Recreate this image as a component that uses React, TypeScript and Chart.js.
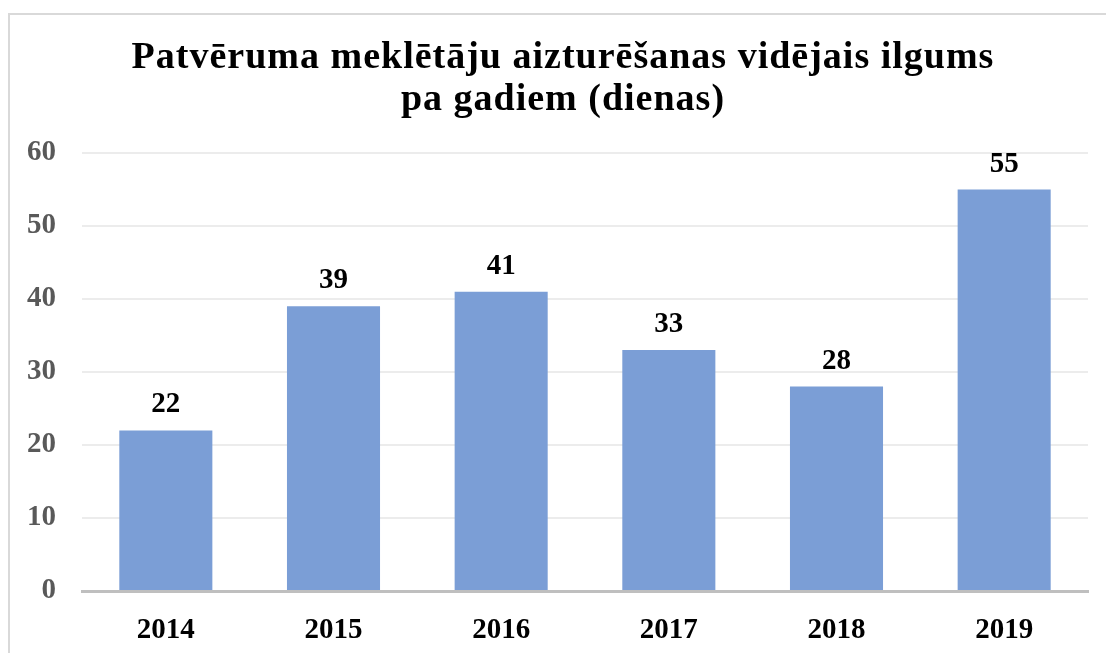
import React, { useEffect, useRef } from "react";
import { Chart, registerables } from "chart.js";

Chart.register(...registerables);

const categories = ["2014", "2015", "2016", "2017", "2018", "2019"];
const values = [22, 39, 41, 33, 28, 55];
const titleLines = ["Patvēruma meklētāju aizturēšanas vidējais ilgums", "pa gadiem (dienas)"];
const yTicks = [0, 10, 20, 30, 40, 50, 60];

const FONT = "'Liberation Serif', 'Times New Roman', serif";

const titlePlugin = {
  id: "customTitle",
  afterDraw(chart: any) {
    const ctx = chart.ctx;
    ctx.save();
    ctx.fillStyle = "#000";
    ctx.font = `bold 38px ${FONT}`;
    (ctx as any).letterSpacing = "1px";
    ctx.textAlign = "center";
    ctx.textBaseline = "alphabetic";
    const cx = 563;
    ctx.fillText(titleLines[0], cx, 68);
    ctx.fillText(titleLines[1], cx, 110);
    ctx.restore();
  },
};

const labelPlugin = {
  id: "valueLabels",
  afterDatasetsDraw(chart: any) {
    const ctx = chart.ctx;
    const meta = chart.getDatasetMeta(0);
    ctx.save();
    ctx.fillStyle = "#000";
    ctx.font = `bold 29px ${FONT}`;
    ctx.textAlign = "center";
    ctx.textBaseline = "alphabetic";
    meta.data.forEach((bar: any, i: number) => {
      ctx.fillText(String(values[i]), bar.x, bar.y - 18);
    });
    ctx.restore();
  },
};

export default function App() {
  const ref = useRef<HTMLCanvasElement>(null);
  useEffect(() => {
    if (!ref.current) return;
    const chart = new Chart(ref.current, {
      type: "bar",
      data: {
        labels: categories,
        datasets: [
          {
            data: values,
            backgroundColor: "rgb(123,158,214)",
            barPercentage: 0.555,
            categoryPercentage: 1,
          },
        ],
      },
      options: {
        animation: false,
        responsive: false,
        maintainAspectRatio: false,
        layout: { padding: { top: 153, right: 18, bottom: 0, left: 0 } },
        plugins: { legend: { display: false }, title: { display: false }, tooltip: { enabled: false } },
        scales: {
          x: {
            grid: { display: false, drawTicks: false },
            border: { display: true, color: "#bfbfbf", width: 3 },
            ticks: { color: "#000", font: { family: FONT, size: 29, weight: "bold" }, padding: 22 },
            afterFit: (s: any) => { s.height = 62; },
          },
          y: {
            min: 0,
            max: 60,
            afterBuildTicks: (s: any) => { s.ticks = yTicks.map((v) => ({ value: v })); },
            grid: { color: "#ececec", lineWidth: 2, drawTicks: false },
            border: { display: false },
            ticks: { color: "#595959", font: { family: FONT, size: 29, weight: "bold" }, padding: 26 },
            afterFit: (s: any) => { s.width = 82; },
          },
        },
      },
      plugins: [titlePlugin, labelPlugin],
    });
    return () => chart.destroy();
  }, []);
  return (
    <div style={{ position: "fixed", left: 0, top: 0, width: 1106, height: 653, overflow: "hidden", background: "#fff" }}>
      <div style={{ position: "absolute", left: 8, top: 13, width: 1200, height: 800, borderTop: "2px solid #d9d9d9", borderLeft: "2px solid #d9d9d9" }} />
      <canvas ref={ref} width={1106} height={653} style={{ position: "absolute", left: 0, top: 0 }} />
    </div>
  );
}
